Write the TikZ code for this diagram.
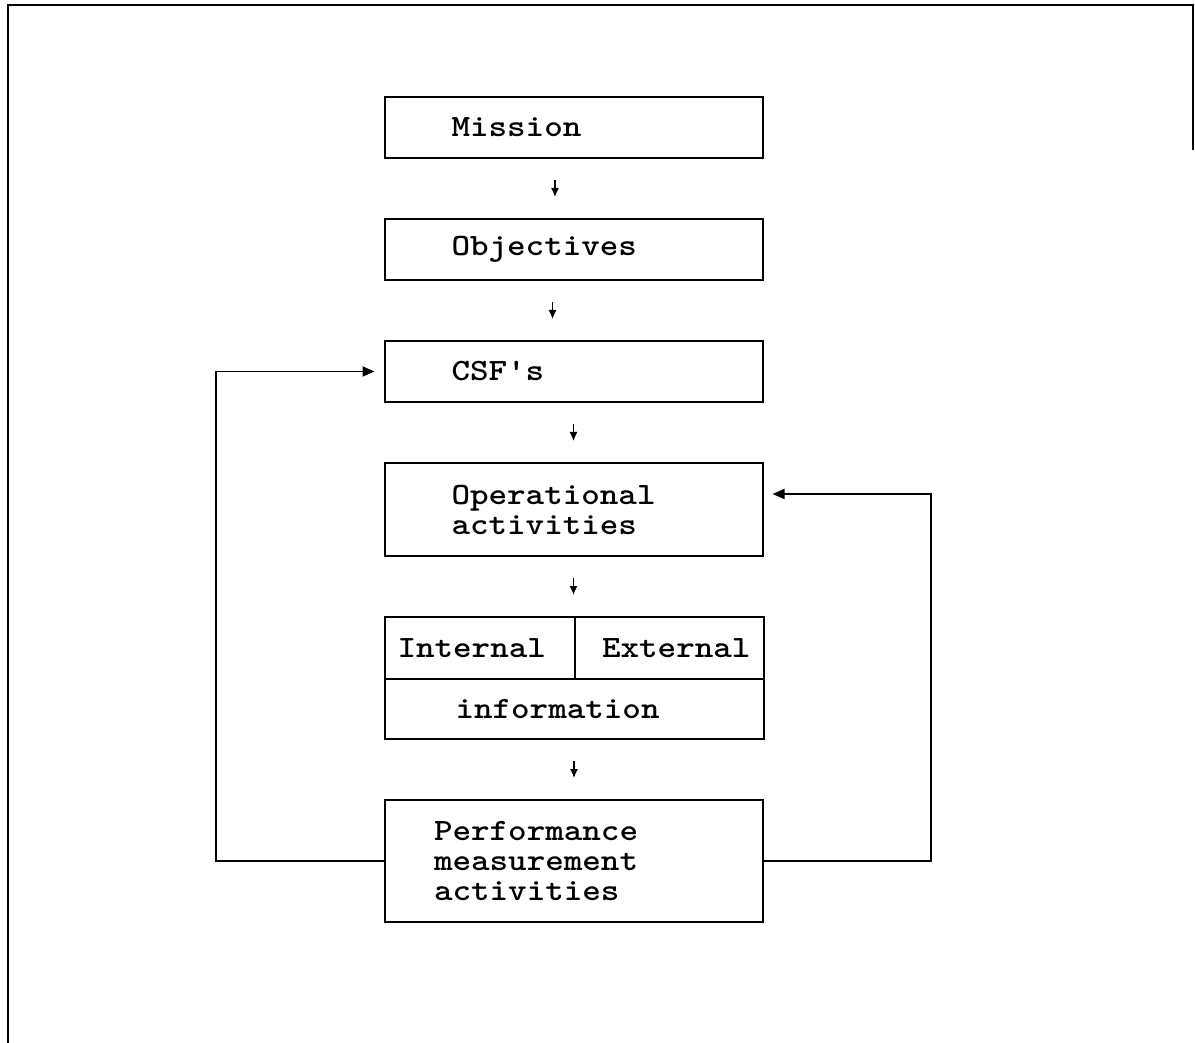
\documentclass[tikz,border=0pt]{standalone}
\usepackage{fontspec}
\setmonofont{lmmonolt10-bold.otf}[FakeStretch=1.14]
\usepackage{tikz}
\usetikzlibrary{arrows.meta}
\usetikzlibrary{positioning}

\begin{document}
\begin{tikzpicture}[
    stage/.style = {draw, line width=1pt, outer sep=0pt, align=left,
        inner xsep=33.5pt, text width=122pt, minimum height=30.5pt,
        font=\ttfamily\fontsize{15.5pt}{15pt}\selectfont},
    down/.style = {-{Latex[length=4.5pt,width=4pt]}, line width=0.7pt,
        shorten <=11pt, shorten >=11pt},
    loop/.style = {-{Triangle[length=6pt,width=5pt]}, line width=0.9pt,
        shorten >=5pt},
    node distance = 30.5pt]
    \useasboundingbox (0,0) rectangle (597.5pt,-521.5pt);
    \draw[line width=1pt] (4pt,-521.5pt) -- (4pt,-2.5pt) -- (596.5pt,-2.5pt) -- (596.5pt,-75pt);

    \node[stage] (mission) at (286.75pt,-63.75pt) {Mission};
    \node[stage, below=of mission] (obj) {Objectives};
    \node[stage, below=of obj] (csf) {CSF's};
    \node[stage, below=of csf, minimum height=46.5pt] (oper) {Operational\\activities};
    \node[stage, below=of oper.south west, anchor=north west,
        inner xsep=6.5pt, text width=82pt, minimum height=31pt] (intl) {Internal};
    \node[stage, right=0pt of intl, align=right,
        inner xsep=6.5pt, text width=81.5pt, minimum height=31pt] (extl) {External};
    \node[stage, below=0pt of intl.south west, anchor=north west,
        inner xsep=35.5pt, text width=118.5pt, minimum height=30pt] (info) {information};
    \node[stage, below=of info, inner xsep=24.5pt, text width=140pt,
        minimum height=61pt] (perf) {Performance\\measurement\\activities};

    \draw[down] ([xshift=-9.25pt]mission.south) -- ([xshift=-9.25pt]obj.north);
    \draw[down] ([xshift=-10.5pt]obj.south) -- ([xshift=-10.5pt]csf.north);
    \draw[down] (csf.south) -- (oper.north);
    \draw[down] (oper.south) -- (oper.south |- intl.north);
    \draw[down] (info.south) -- (perf.north);

    \coordinate[left=84.5pt of perf.west] (lbend);
    \coordinate[right=84pt of perf.east] (rbend);
    \draw[loop] (perf.west) -- (lbend) |- (csf.west);
    \draw[loop] (perf.east) -- (rbend) |- ([yshift=7.75pt]oper.east);
\end{tikzpicture}
\end{document}
